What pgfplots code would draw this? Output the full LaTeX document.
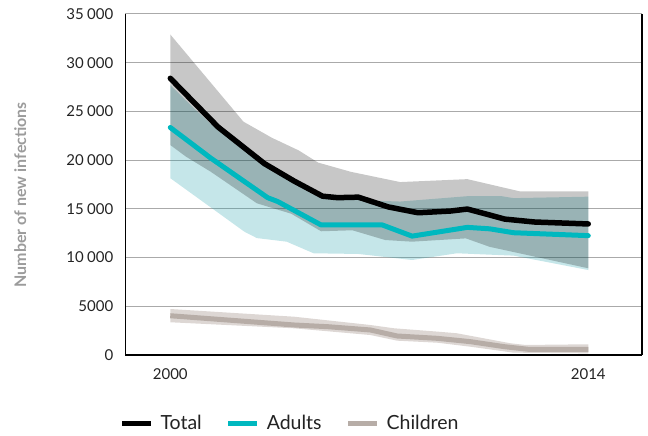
\documentclass[border=0pt]{standalone}
\usepackage{fontspec}
\setmainfont{Lato}
\usepackage{pgfplots}
\pgfplotsset{compat=1.18}
\usepgfplotslibrary{fillbetween}
\definecolor{tealline}{RGB}{0,184,191}
\definecolor{tealband}{RGB}{23,155,167}
\definecolor{childline}{RGB}{183,173,167}
\definecolor{childband}{RGB}{221,215,212}
\definecolor{gridgray}{RGB}{170,170,170}
\definecolor{labelgray}{RGB}{155,155,155}
\definecolor{ticktext}{RGB}{35,35,35}
\begin{document}
\begin{tikzpicture}
\begin{axis}[
  scale only axis, width=516.5pt, height=341pt,
  xmin=1998.5, xmax=2015.8, ymin=0, ymax=35000,
  scaled y ticks=false, scaled x ticks=false,
  axis x line*=bottom, axis y line*=box,
  axis line style={line width=1.3pt, black},
  xtick={2000,2014}, xticklabels={2000,2014},
  ytick={0,5000,10000,15000,20000,25000,30000,35000},
  yticklabels={0,5000,10\hspace{0.22em}000,15\hspace{0.22em}000,20\hspace{0.22em}000,25\hspace{0.22em}000,30\hspace{0.22em}000,35\hspace{0.22em}000},
  major tick length=0pt,
  ymajorgrids, major grid style={gridgray, line width=1pt},
  tick label style={font=\fontsize{15}{17}\selectfont, color=ticktext},
  yticklabel style={inner sep=0pt, anchor=east, xshift=-12pt},
  xticklabel style={inner sep=0pt, anchor=north, yshift=-13pt},
  ylabel={Number of new infections},
  ylabel style={at={(axis description cs:-0.204,0.47)}, anchor=center, rotate=0, font=\bfseries\fontsize{16}{18}\selectfont, color=labelgray},
  legend columns=3,
  legend style={at={(axis description cs:-0.012,-0.2)}, anchor=west, draw=none, fill=none, inner sep=0pt,
    font=\fontsize{19.5}{22}\selectfont, text=ticktext,
    /tikz/every odd column/.append style={column sep=5pt},
    /tikz/every even column/.append style={column sep=22pt}},
  legend image code/.code={\draw[#1, line cap=butt] (0pt,0pt) -- (29pt,0pt);},
]
\addlegendimage{black, line width=5pt}
\addlegendentry{Total}
\addlegendimage{tealline, line width=5pt}
\addlegendentry{Adults}
\addlegendimage{childline, line width=5pt}
\addlegendentry{Children}

% Adults uncertainty band
\addplot[name path=au, draw=none, forget plot] coordinates {
(2000,27700)(2000.8,25300)(2001.5,23300)(2003.0,19850)(2004.15,17800)(2005.2,16000)(2007.7,15750)(2009.95,16300)(2011.1,16300)(2011.5,16100)(2014,16250)};
\addplot[name path=al, draw=none, forget plot] coordinates {
(2000,18150)(2002.48,12660)(2002.9,12000)(2003.9,11630)(2004.8,10440)(2006.3,10370)(2008.1,9750)(2009.6,10440)(2011.0,10260)(2011.5,10200)(2014,8720)};
\addplot[fill=tealband, fill opacity=0.25, draw=none, forget plot] fill between[of=au and al];

% Total uncertainty band
\addplot[name path=tu, draw=none, forget plot] coordinates {
(2000,32900)(2002.45,23950)(2003.4,22300)(2004.3,21000)(2004.95,19750)(2006.05,18800)(2007.7,17750)(2009.95,18050)(2011.7,16800)(2014,16800)};
\addplot[name path=tl, draw=none, forget plot] coordinates {
(2000,21550)(2000.53,20350)(2001.36,18800)(2002.9,15570)(2004.05,14500)(2005.05,12700)(2006.1,12800)(2007.2,11800)(2008.1,11630)(2009.9,11970)(2010.7,11100)(2014,8900)};
\addplot[fill=black, fill opacity=0.22, draw=none, forget plot] fill between[of=tu and tl];

% Children uncertainty band
\addplot[name path=cu, draw=none, forget plot] coordinates {
(2000,4720)(2004.15,3930)(2006.7,3080)(2007.5,2740)(2008.95,2400)(2009.6,2230)(2011.4,1200)(2011.9,1030)(2014,1100)};
\addplot[name path=cl, draw=none, forget plot] coordinates {
(2000,3360)(2004.15,2740)(2006.7,2050)(2007.6,1470)(2008.95,1260)(2010.05,850)(2011.5,240)(2014,170)};
\addplot[fill=childband, draw=none, forget plot] fill between[of=cu and cl];

% Lines
\addplot[childline, line width=5pt, line join=round, line cap=butt, forget plot] coordinates {
(2000,4030)(2004.15,3080)(2005.3,2900)(2006.7,2570)(2007.6,1950)(2008.95,1710)(2010.05,1370)(2011.2,850)(2012,580)(2014,580)};
\addplot[tealline, line width=5pt, line join=round, line cap=round, forget plot] coordinates {
(2000,23350)(2001.36,20200)(2003.26,16150)(2003.6,15750)(2005.05,13350)(2007.1,13350)(2008.1,12200)(2009.95,13100)(2010.7,12950)(2011.5,12550)(2014,12250)};
\addplot[black, line width=5.5pt, line join=round, line cap=round, forget plot] coordinates {
(2000,28400)(2001.6,23400)(2003.15,19650)(2004.15,17850)(2005.1,16300)(2005.6,16150)(2006.3,16200)(2007.3,15200)(2008.3,14600)(2009.4,14780)(2009.95,14980)(2010.6,14450)(2011.2,13950)(2012.2,13650)(2014,13450)};
\end{axis}
\pgfresetboundingbox
\path[use as bounding box] (-125.5pt,-81pt) rectangle (522.5pt,355pt);
\end{tikzpicture}
\end{document}
